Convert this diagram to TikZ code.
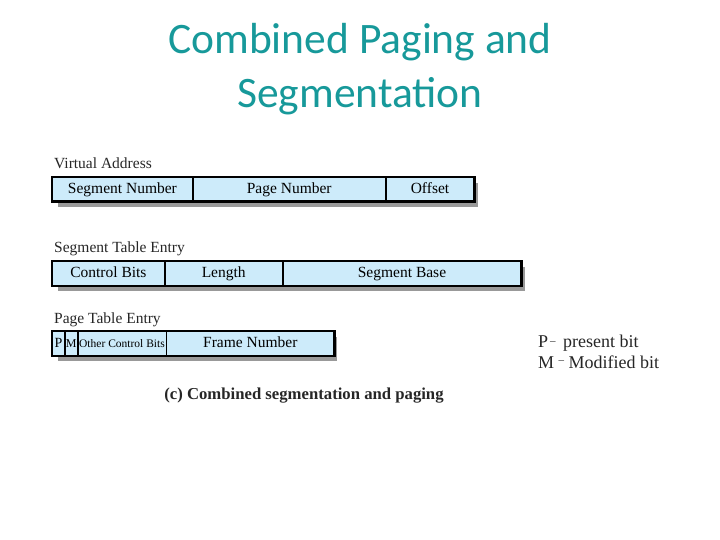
\documentclass[tikz,border=0pt]{standalone}
\usepackage{fontspec}
\setmainfont{Liberation Serif}
\newfontfamily\titlefont{Carlito}
\definecolor{titleteal}{HTML}{17999A}
\definecolor{fieldblue}{HTML}{CDEBFA}
\definecolor{shadowgray}{HTML}{999999}
\begin{document}
\begin{tikzpicture}[x=1pt,y=-1pt,
  field/.style={draw=black, line width=0.8pt, fill=fieldblue, inner sep=0pt,
    anchor=north west, minimum height=24pt, text height=0.86em, text depth=0.08em,
    font=\fontsize{15.5}{15.5}\selectfont},
  smallfield/.style={field, font=\fontsize{11.5}{11.5}\selectfont},
  frame/.style={draw=black, line width=2.6pt},
  shadow/.style={fill=shadowgray, draw=none},
  heading/.style={anchor=base west, inner sep=0pt, font=\fontsize{15.5}{15.5}\selectfont, text=black!85},
  legend/.style={anchor=base west, inner sep=0pt, font=\fontsize{18}{18}\selectfont, text=black!85}]
\useasboundingbox (0,0) rectangle (720,540);

% Title
\node[anchor=base, inner sep=0pt, text=titleteal, font=\titlefont\fontsize{43.5}{43.5}\selectfont] (t1) at (360,54) {Combined Paging and};
\node[anchor=base, inner sep=0pt, text=titleteal, font=\titlefont\fontsize{43.5}{43.5}\selectfont] (t2) at (360,108) {Segmentation};

% Virtual Address
\node[heading] (vah) at (54,169) {Virtual Address};
\fill[shadow] (58,183) rectangle (478,207);
\node[field, minimum width=140pt] (va1) at (52,177) {Segment Number};
\node[field, minimum width=192pt] (va2) at (va1.north east) {Page Number};
\node[field, minimum width=88pt] (va3) at (va2.north east) {Offset};
\draw[frame] (va1.north west) rectangle (va3.south east);

% Segment Table Entry
\node[heading] (sth) at (54,252) {Segment Table Entry};
\fill[shadow] (58,267) rectangle (525,291);
\node[field, minimum width=112pt] (st1) at (52,261) {Control Bits};
\node[field, minimum width=117pt] (st2) at (st1.north east) {Length};
\node[field, minimum width=238pt] (st3) at (st2.north east) {Segment Base};
\draw[frame] (st1.north west) rectangle (st3.south east);

% Page Table Entry
\node[heading] (pth) at (54,323) {Page Table Entry};
\fill[shadow] (58,337) rectangle (337,361);
\node[field, minimum width=12pt, font=\fontsize{14}{14}\selectfont] (pt1) at (52,331) {P};
\node[field, minimum width=12pt, font=\fontsize{12}{12}\selectfont] (pt2) at (pt1.north east) {M};
\node[smallfield, minimum width=88pt] (pt3) at (pt2.north east) {Other Control Bits};
\node[field, minimum width=167pt] (pt4) at (pt3.north east) {Frame Number};
\draw[frame] (pt1.north west) rectangle (pt4.south east);

% Legend
\node[legend] (lp) at (538,347) {P\raisebox{0.15em}{\fontsize{11}{11}\selectfont\,\textendash}\, present bit};
\node[legend] (lm) at (538,368) {M \raisebox{0.25em}{\fontsize{11}{11}\selectfont\textendash} Modified bit};

% Caption
\node[anchor=base, inner sep=0pt, font=\bfseries\fontsize{16.7}{16.7}\selectfont, text=black!85] (cap) at (304,399) {(c) Combined segmentation and paging};
\end{tikzpicture}
\end{document}
